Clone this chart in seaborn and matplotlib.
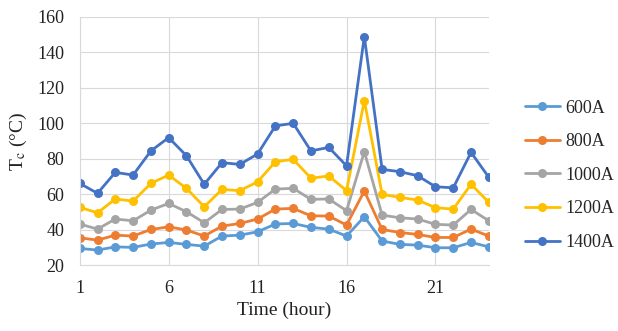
import matplotlib
matplotlib.use("Agg")
import matplotlib.pyplot as plt
import seaborn as sns
import pandas as pd

hours = list(range(1, 25))
currents = ["600A", "800A", "1000A", "1200A", "1400A"]
colors = ["#5B9BD5", "#ED7D31", "#A5A5A5", "#FFC000", "#4472C4"]

t_600 = [29.4, 28.5, 30.3, 30.0, 31.9, 32.8, 31.7, 30.7, 36.4, 36.9, 38.8, 43.2,
         43.5, 41.3, 40.3, 36.4, 47.3, 33.6, 31.7, 31.3, 29.8, 29.8, 32.8, 30.3]
t_800 = [35.4, 34.1, 36.9, 36.4, 40.1, 41.6, 39.8, 36.4, 42.0, 43.5, 46.0, 51.6,
         52.0, 47.8, 47.7, 42.6, 61.8, 40.1, 38.4, 37.3, 35.6, 35.6, 40.3, 36.4]
t_1000 = [43.2, 40.3, 46.0, 45.0, 51.0, 54.8, 50.1, 43.9, 51.4, 51.6, 55.4, 62.9,
          63.3, 57.1, 57.3, 50.7, 84.0, 48.2, 46.7, 46.0, 43.0, 42.6, 51.4, 45.0]
t_1200 = [52.6, 49.5, 57.3, 56.1, 66.1, 70.8, 63.3, 52.9, 62.7, 62.0, 67.0, 78.3,
          79.7, 69.0, 70.3, 62.0, 112.8, 59.9, 58.2, 56.7, 52.4, 51.6, 65.6, 55.4]
t_1400 = [66.1, 60.5, 72.3, 70.8, 84.4, 91.9, 81.7, 65.6, 77.8, 76.8, 82.7, 98.5,
          100.0, 84.4, 86.4, 76.0, 148.9, 74.0, 72.7, 70.4, 64.2, 63.6, 83.6, 69.5]

series = [t_600, t_800, t_1000, t_1200, t_1400]
rows = []
for name, vals in zip(currents, series):
    for h, v in zip(hours, vals):
        rows.append({"hour": h, "temp": v, "current": name})
df = pd.DataFrame(rows)

sns.set_style("white")
plt.rcParams["font.family"] = ["Liberation Serif", "DejaVu Serif"]
plt.rcParams["mathtext.fontset"] = "stix"

fig = plt.figure(figsize=(6.18, 3.31), dpi=100)
ax = fig.add_axes([0.129, 0.199, 0.662, 0.75])

sns.lineplot(data=df, x="hour", y="temp", hue="current", hue_order=currents,
             palette=colors, marker="o", markersize=6.5, markeredgewidth=0,
             linewidth=2.0, ax=ax)

ax.set_xlim(1, 24)
ax.set_ylim(20, 160)
ax.set_xticks([1, 6, 11, 16, 21])
ax.set_yticks(range(20, 161, 20))
ax.grid(True, color="#D9D9D9", linewidth=0.8)
ax.set_axisbelow(True)
for side in ["top", "right"]:
    ax.spines[side].set_visible(False)
for side in ["left", "bottom"]:
    ax.spines[side].set_color("#D9D9D9")
ax.tick_params(length=0, labelsize=13, colors="#222222", pad=11)
ax.set_xlabel("Time (hour)", fontsize=14, color="#222222", labelpad=3)
ax.set_ylabel("T$_\\mathrm{c}$ (°C)", fontsize=14, color="#222222", labelpad=6)

handles, labels = ax.get_legend_handles_labels()
leg = ax.legend(handles, labels, loc="center left", bbox_to_anchor=(1.088, 0.362),
                frameon=False, fontsize=13, handlelength=1.95, labelspacing=0.92,
                handletextpad=0.3, borderpad=0, borderaxespad=0)

fig.savefig("out.png", dpi=100)
